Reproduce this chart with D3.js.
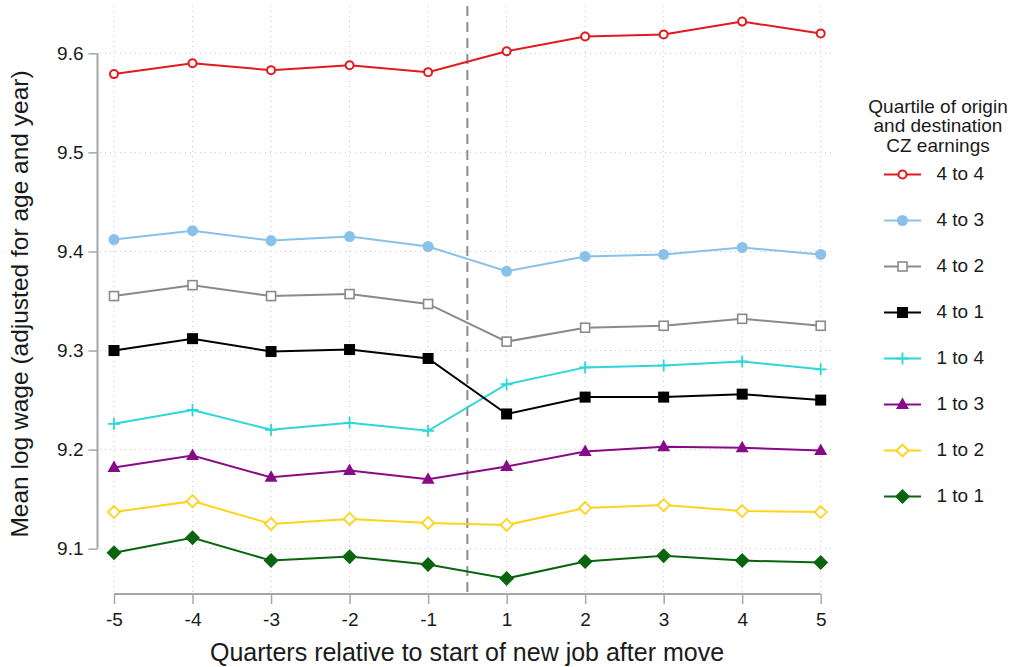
<!DOCTYPE html>
<html>
<head>
<meta charset="utf-8">
<script src="https://cdn.jsdelivr.net/npm/d3@7"></script>
<style>
  body { margin: 0; background: #fff; }
  svg { font-family: "Liberation Sans", Arial, sans-serif; }
</style>
</head>
<body>
<svg id="chart" width="1013" height="667"></svg>
<script>
// quarters relative to start of new job (no quarter 0)
var quarters = ["-5", "-4", "-3", "-2", "-1", "1", "2", "3", "4", "5"];
var yTicks = [9.1, 9.2, 9.3, 9.4, 9.5, 9.6];

var s4to4 = [9.579, 9.590, 9.583, 9.588, 9.581, 9.602, 9.617, 9.619, 9.632, 9.620];
var s4to3 = [9.412, 9.421, 9.411, 9.415, 9.405, 9.380, 9.395, 9.397, 9.404, 9.397];
var s4to2 = [9.355, 9.366, 9.355, 9.357, 9.347, 9.309, 9.323, 9.325, 9.332, 9.325];
var s4to1 = [9.300, 9.312, 9.299, 9.301, 9.292, 9.236, 9.253, 9.253, 9.256, 9.250];
var s1to4 = [9.226, 9.240, 9.220, 9.227, 9.219, 9.266, 9.283, 9.285, 9.289, 9.281];
var s1to3 = [9.182, 9.194, 9.172, 9.179, 9.170, 9.183, 9.198, 9.203, 9.202, 9.199];
var s1to2 = [9.137, 9.148, 9.125, 9.130, 9.126, 9.124, 9.141, 9.144, 9.138, 9.137];
var s1to1 = [9.096, 9.111, 9.088, 9.092, 9.084, 9.070, 9.087, 9.093, 9.088, 9.086];

var series = [
  { name: "4 to 4", values: s4to4, color: "#e2191f", marker: "circle-o" },
  { name: "4 to 3", values: s4to3, color: "#88c1ea", marker: "circle" },
  { name: "4 to 2", values: s4to2, color: "#8a8a8a", marker: "square-o" },
  { name: "4 to 1", values: s4to1, color: "#000000", marker: "square" },
  { name: "1 to 4", values: s1to4, color: "#2fd6d8", marker: "plus" },
  { name: "1 to 3", values: s1to3, color: "#870b87", marker: "triangle" },
  { name: "1 to 2", values: s1to2, color: "#ffd319", marker: "diamond-o" },
  { name: "1 to 1", values: s1to1, color: "#0b650f", marker: "diamond" }
];

var svg = d3.select("#chart");

var x = d3.scalePoint().domain(quarters).range([114, 820.7]);
var y = d3.scaleLinear().domain([9.1, 9.6]).range([548.7, 53.3]);
var plotTop = 6, plotBottom = 594, plotLeft = 100, plotRight = 834;

// grid lines
svg.append("g")
  .selectAll("line")
  .data(yTicks)
  .enter()
  .append("line")
  .attr("x1", plotLeft).attr("x2", plotRight)
  .attr("y1", d => y(d)).attr("y2", d => y(d))
  .attr("stroke", "#c8c8c8").attr("stroke-width", 1)
  .attr("stroke-dasharray", "1,4");

svg.append("g")
  .selectAll("line")
  .data(quarters)
  .enter()
  .append("line")
  .attr("x1", d => x(d)).attr("x2", d => x(d))
  .attr("y1", plotTop).attr("y2", plotBottom)
  .attr("stroke", "#c8c8c8").attr("stroke-width", 1)
  .attr("stroke-dasharray", "1,4");

// dashed line at start of new job
var xMove = (x("-1") + x("1")) / 2;
svg.append("line")
  .attr("x1", xMove).attr("x2", xMove)
  .attr("y1", plotTop).attr("y2", plotBottom)
  .attr("stroke", "#8c8c8c").attr("stroke-width", 2)
  .attr("stroke-dasharray", "10,6");

// axes
var yAxis = svg.append("g")
  .attr("transform", "translate(97.5,0)")
  .call(d3.axisLeft(y).tickValues(yTicks).tickSize(9).tickPadding(5).tickFormat(d3.format(".1f")));
var xAxis = svg.append("g")
  .attr("transform", "translate(0," + plotBottom + ")")
  .call(d3.axisBottom(x).tickSize(10).tickPadding(9));

[yAxis, xAxis].forEach(function(a) {
  a.select(".domain").attr("stroke", "#a6a6a6").attr("stroke-width", 2);
  a.selectAll(".tick line").attr("stroke", "#a6a6a6").attr("stroke-width", 1.5);
  a.selectAll(".tick text").attr("fill", "#1a1a1a").style("font-size", "19px")
    .style("font-family", "Liberation Sans, Arial, sans-serif");
});
// axis lines only span the tick range
yAxis.select(".domain").attr("d", "M0," + y(9.6) + "V" + y(9.1));
xAxis.select(".domain").attr("d", "M" + x("-5") + ",0H" + x("5"));

// axis titles
svg.append("text")
  .attr("transform", "translate(28,304) rotate(-90)")
  .attr("text-anchor", "middle")
  .style("font-size", "24.5px").attr("fill", "#1a1a1a")
  .text("Mean log wage (adjusted for age and year)");

svg.append("text")
  .attr("x", 467).attr("y", 661)
  .attr("text-anchor", "middle")
  .style("font-size", "25px").attr("fill", "#1a1a1a")
  .text("Quarters relative to start of new job after move");

// marker drawing
function drawMarker(g, type, color) {
  if (type === "circle-o") {
    g.append("circle").attr("r", 4).attr("fill", "#fff").attr("stroke", color).attr("stroke-width", 2);
  } else if (type === "circle") {
    g.append("circle").attr("r", 5.5).attr("fill", color);
  } else if (type === "square-o") {
    g.append("rect").attr("x", -4.5).attr("y", -4.5).attr("width", 9).attr("height", 9)
      .attr("fill", "#fff").attr("stroke", color).attr("stroke-width", 1.6);
  } else if (type === "square") {
    g.append("rect").attr("x", -5.5).attr("y", -5.5).attr("width", 11).attr("height", 11).attr("fill", color);
  } else if (type === "plus") {
    g.append("path").attr("d", "M-6,0H6M0,-6V6").attr("stroke", color).attr("stroke-width", 1.8);
  } else if (type === "triangle") {
    g.append("path").attr("d", "M0,-7L6.5,4.5H-6.5Z").attr("fill", color);
  } else if (type === "diamond-o") {
    g.append("path").attr("d", "M0,-6L6,0L0,6L-6,0Z").attr("fill", "#fff").attr("stroke", color).attr("stroke-width", 1.8);
  } else if (type === "diamond") {
    g.append("path").attr("d", "M0,-7.5L7.5,0L0,7.5L-7.5,0Z").attr("fill", color);
  }
}

// series lines and markers
var line = d3.line()
  .x(function(d, i) { return x(quarters[i]); })
  .y(function(d) { return y(d); });

series.slice().reverse().forEach(function(s) {
  var g = svg.append("g");
  g.append("path")
    .attr("d", line(s.values))
    .attr("fill", "none")
    .attr("stroke", s.color)
    .attr("stroke-width", 2);
  s.values.forEach(function(v, i) {
    var m = g.append("g").attr("transform", "translate(" + x(quarters[i]) + "," + y(v) + ")");
    drawMarker(m, s.marker, s.color);
  });
});

// legend
var legend = svg.append("g");
["Quartile of origin", "and destination", "CZ earnings"].forEach(function(t, i) {
  legend.append("text")
    .attr("x", 938).attr("y", 112.5 + i * 19.6)
    .attr("text-anchor", "middle")
    .style("font-size", "19px").attr("fill", "#1a1a1a")
    .text(t);
});

series.forEach(function(s, i) {
  var ly = 174.5 + i * 46;
  var item = legend.append("g").attr("transform", "translate(0," + ly + ")");
  item.append("line").attr("x1", 884).attr("x2", 921).attr("y1", 0).attr("y2", 0)
    .attr("stroke", s.color).attr("stroke-width", 2);
  var m = item.append("g").attr("transform", "translate(902.5,0)");
  drawMarker(m, s.marker, s.color);
  item.append("text").attr("x", 936.5).attr("y", 5)
    .style("font-size", "19px").attr("fill", "#1a1a1a")
    .text(s.name);
});
</script>
</body>
</html>
